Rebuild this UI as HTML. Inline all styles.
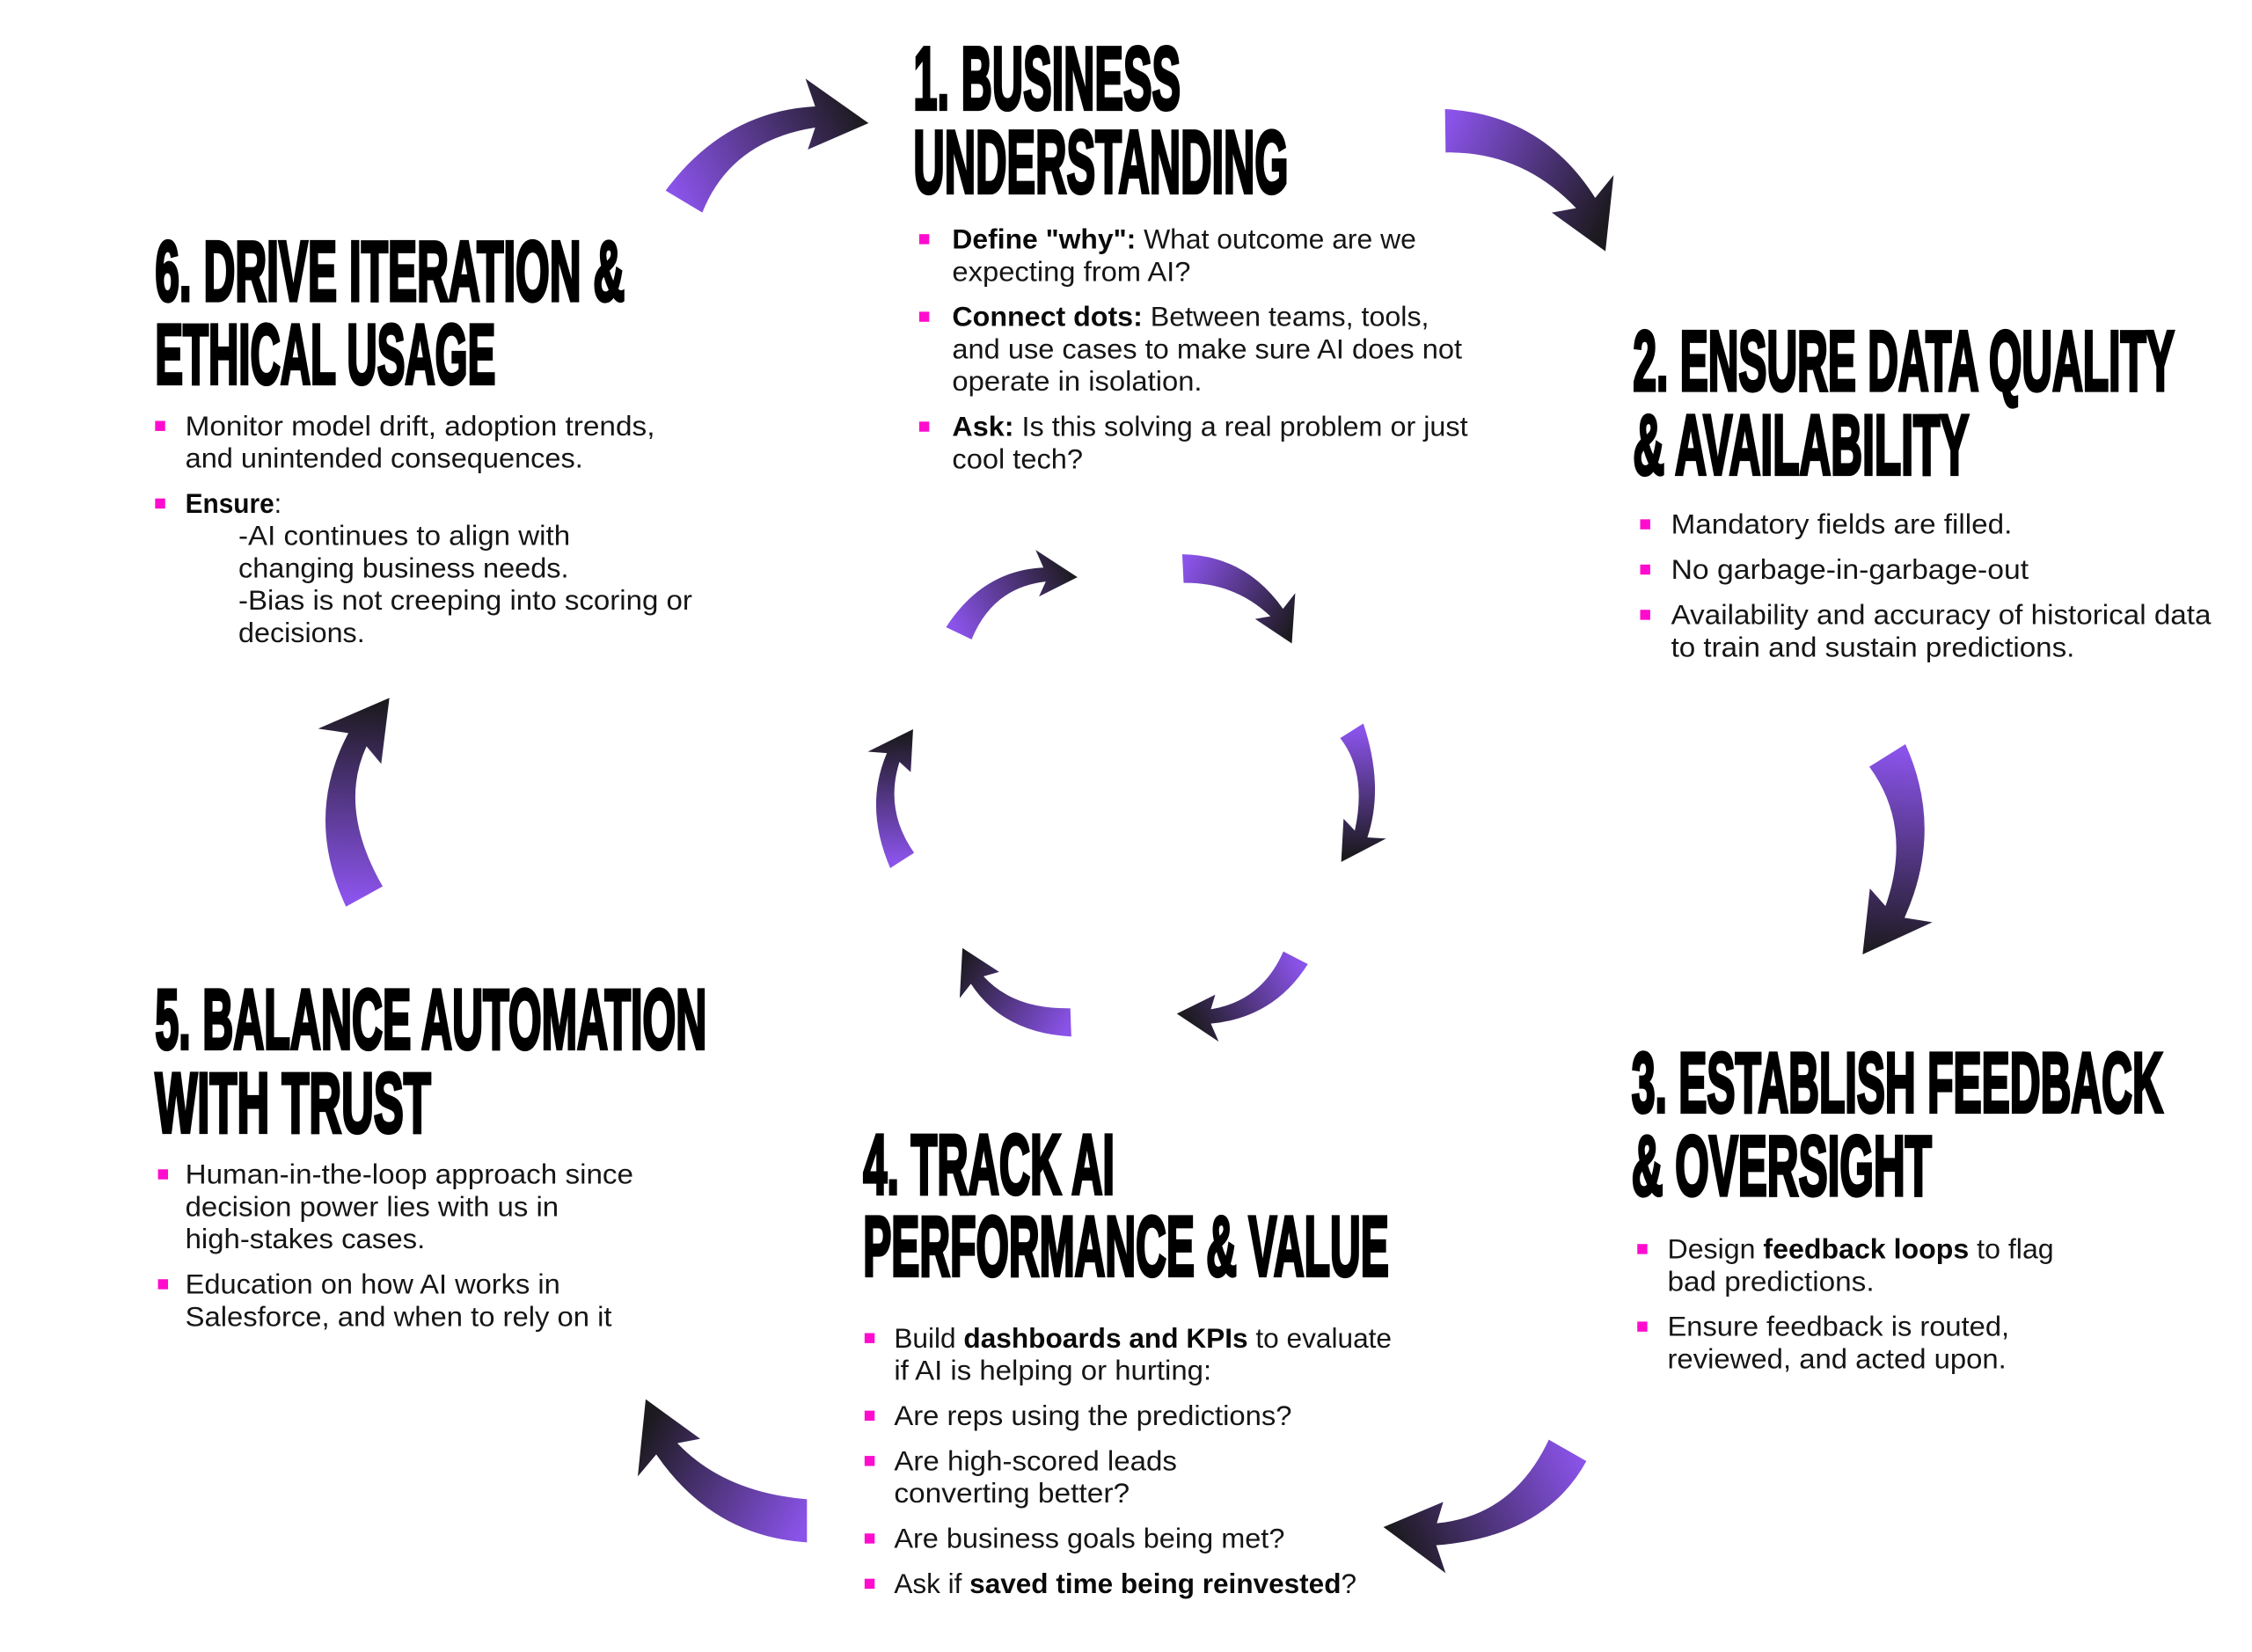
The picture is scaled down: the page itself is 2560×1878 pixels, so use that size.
<!DOCTYPE html>
<html>
<head>
<meta charset="utf-8">
<style>
html,body{margin:0;padding:0;background:#fff;}
svg{display:block;}
.t{font-family:"Liberation Sans",Arial,sans-serif;font-weight:700;font-size:59px;fill:#000;stroke:#000;stroke-width:2.6px;stroke-linejoin:miter;}
.t1{font-size:62px;}
.b{font-family:"Liberation Sans",Arial,sans-serif;font-size:19px;fill:#151515;}
.k{font-weight:700;fill:#0a0a0a;}
.sq{fill:#ff0ccf;}
</style>
</head>
<body>
<svg xmlns="http://www.w3.org/2000/svg" width="2560" height="1878" viewBox="0 0 2560 1878">
<defs>
  <linearGradient id="gA1" gradientUnits="userSpaceOnUse" x1="130" y1="510" x2="740" y2="200"><stop offset="0" stop-color="#8a53e9"/><stop offset="1" stop-color="#1c1a1f"/></linearGradient>
  <linearGradient id="gA2" gradientUnits="userSpaceOnUse" x1="68" y1="140" x2="630" y2="420"><stop offset="0" stop-color="#8a53e9"/><stop offset="1" stop-color="#1c1a1f"/></linearGradient>
  <linearGradient id="gA3" gradientUnits="userSpaceOnUse" x1="350" y1="100" x2="300" y2="790"><stop offset="0" stop-color="#8a53e9"/><stop offset="1" stop-color="#1c1a1f"/></linearGradient>
  <linearGradient id="gA4" gradientUnits="userSpaceOnUse" x1="720" y1="140" x2="100" y2="440"><stop offset="0" stop-color="#8a53e9"/><stop offset="1" stop-color="#1c1a1f"/></linearGradient>
  <linearGradient id="gA5" gradientUnits="userSpaceOnUse" x1="622" y1="480" x2="60" y2="180"><stop offset="0" stop-color="#8a53e9"/><stop offset="1" stop-color="#1c1a1f"/></linearGradient>
  <linearGradient id="gA6" gradientUnits="userSpaceOnUse" x1="430" y1="720" x2="470" y2="60"><stop offset="0" stop-color="#8a53e9"/><stop offset="1" stop-color="#1c1a1f"/></linearGradient>
  <linearGradient id="gI1" gradientUnits="userSpaceOnUse" x1="290" y1="310" x2="630" y2="140"><stop offset="0" stop-color="#8a53e9"/><stop offset="1" stop-color="#1c1a1f"/></linearGradient>
  <linearGradient id="gI2" gradientUnits="userSpaceOnUse" x1="948" y1="120" x2="1270" y2="300"><stop offset="0" stop-color="#8a53e9"/><stop offset="1" stop-color="#1c1a1f"/></linearGradient>
  <linearGradient id="gI3" gradientUnits="userSpaceOnUse" x1="1444" y1="597" x2="1450" y2="960"><stop offset="0" stop-color="#8a53e9"/><stop offset="1" stop-color="#1c1a1f"/></linearGradient>
  <linearGradient id="gI4" gradientUnits="userSpaceOnUse" x1="1280" y1="1265" x2="960" y2="1440"><stop offset="0" stop-color="#8a53e9"/><stop offset="1" stop-color="#1c1a1f"/></linearGradient>
  <linearGradient id="gI5" gradientUnits="userSpaceOnUse" x1="618" y1="1455" x2="300" y2="1260"><stop offset="0" stop-color="#8a53e9"/><stop offset="1" stop-color="#1c1a1f"/></linearGradient>
  <linearGradient id="gI6" gradientUnits="userSpaceOnUse" x1="123" y1="978" x2="120" y2="610"><stop offset="0" stop-color="#8a53e9"/><stop offset="1" stop-color="#1c1a1f"/></linearGradient>
</defs>
<rect x="0" y="0" width="2560" height="1878" fill="#ffffff"/>

<!-- Outer ring arrows -->
<g transform="translate(730,60) scale(0.33333)">
  <path fill="url(#gA1)" d="M80,470 Q280,200 590,183 L557,88 L772,240 L565,330 L590,255 Q302,300 205,545 Z"/>
</g>
<g transform="translate(1620,100) scale(0.33333)">
  <path fill="url(#gA2)" d="M68,72 Q400,90 580,375 L643,297 L615,557 L432,425 L515,410 Q330,215 70,220 Z"/>
</g>
<g transform="translate(2030,820) scale(0.33333)">
  <path fill="url(#gA3)" d="M408,78 Q540,370 405,670 L500,685 L262,795 L287,570 L340,630 Q435,360 285,155 Z"/>
</g>
<g transform="translate(1550,1600) scale(0.33333)">
  <path fill="url(#gA4)" d="M632,110 Q510,370 250,395 L272,322 L68,408 L280,565 L248,470 Q620,440 760,183 Z"/>
</g>
<g transform="translate(710,1570) scale(0.33333)">
  <path fill="url(#gA5)" d="M622,403 Q340,380 180,212 L258,197 L72,62 L45,325 L108,250 Q300,530 622,550 Z"/>
</g>
<g transform="translate(270,780) scale(0.33333)">
  <path fill="url(#gA6)" d="M370,752 Q226,444 378,160 L275,145 L518,40 L490,265 L440,205 Q342,416 495,683 Z"/>
</g>

<!-- Inner ring arrows -->
<g transform="translate(978,600) scale(0.38685)">
  <path fill="url(#gI1)" d="M252,292 Q360,125 538,117 L515,65 L638,145 L525,202 L545,158 Q390,175 327,328 Z"/>
  <path fill="url(#gI2)" d="M946,78 Q1130,80 1242,238 L1278,192 L1268,340 L1160,268 L1205,260 Q1100,160 950,162 Z"/>
  <path fill="url(#gI3)" d="M1478,575 Q1540,760 1490,910 L1545,913 L1413,982 L1420,855 L1453,890 Q1490,720 1410,618 Z"/>
  <path fill="url(#gI4)" d="M1315,1282 Q1215,1440 1030,1457 L1053,1510 L930,1428 L1043,1372 L1030,1415 Q1180,1390 1243,1245 Z"/>
  <path fill="url(#gI5)" d="M620,1495 Q420,1485 325,1340 L292,1382 L300,1235 L408,1305 L362,1318 Q450,1415 617,1412 Z"/>
  <path fill="url(#gI6)" d="M88,1000 Q10,820 78,662 L22,658 L155,592 L148,718 L115,688 Q70,830 158,955 Z"/>
</g>

<!-- Text layer in 1568x1150 units -->
<g transform="scale(1.63265,1.63304)">
  <!-- Titles -->
  <text class="t t1" x="636" y="76" textLength="186" lengthAdjust="spacingAndGlyphs">1. BUSINESS</text>
  <text class="t t1" x="636" y="134" textLength="261" lengthAdjust="spacingAndGlyphs">UNDERSTANDING</text>

  <text class="t" x="108" y="209" textLength="327" lengthAdjust="spacingAndGlyphs">6. DRIVE ITERATION &amp;</text>
  <text class="t" x="108" y="267" textLength="237" lengthAdjust="spacingAndGlyphs">ETHICAL USAGE</text>

  <text class="t" x="1137" y="271.5" textLength="377" lengthAdjust="spacingAndGlyphs">2. ENSURE DATA QUALITY</text>
  <text class="t" x="1137" y="330" textLength="234" lengthAdjust="spacingAndGlyphs">&amp; AVAILABILITY</text>

  <text class="t" x="1136" y="774" textLength="370" lengthAdjust="spacingAndGlyphs">3. ESTABLISH FEEDBACK</text>
  <text class="t" x="1136" y="832" textLength="209" lengthAdjust="spacingAndGlyphs">&amp; OVERSIGHT</text>

  <text class="t" x="601" y="831" textLength="175" lengthAdjust="spacingAndGlyphs">4. TRACK AI</text>
  <text class="t" x="601" y="888" textLength="366" lengthAdjust="spacingAndGlyphs">PERFORMANCE &amp; VALUE</text>

  <text class="t" x="108" y="730" textLength="384" lengthAdjust="spacingAndGlyphs">5. BALANCE AUTOMATION</text>
  <text class="t" x="108" y="788" textLength="192" lengthAdjust="spacingAndGlyphs">WITH TRUST</text>

  <!-- Block 1 -->
  <rect class="sq" x="640" y="163" width="7" height="7"/>
  <text class="b" x="663" y="173" textLength="323" lengthAdjust="spacingAndGlyphs"><tspan class="k">Define "why":</tspan> What outcome are we</text>
  <text class="b" x="663" y="195.5" textLength="166" lengthAdjust="spacingAndGlyphs">expecting from AI?</text>
  <rect class="sq" x="640" y="217" width="7" height="7"/>
  <text class="b" x="663" y="227" textLength="332" lengthAdjust="spacingAndGlyphs"><tspan class="k">Connect dots:</tspan> Between teams, tools,</text>
  <text class="b" x="663" y="249.5" textLength="355" lengthAdjust="spacingAndGlyphs">and use cases to make sure AI does not</text>
  <text class="b" x="663" y="272" textLength="174" lengthAdjust="spacingAndGlyphs">operate in isolation.</text>
  <rect class="sq" x="640" y="293.5" width="7" height="7"/>
  <text class="b" x="663" y="303.5" textLength="359" lengthAdjust="spacingAndGlyphs"><tspan class="k">Ask:</tspan> Is this solving a real problem or just</text>
  <text class="b" x="663" y="326" textLength="91" lengthAdjust="spacingAndGlyphs">cool tech?</text>

  <!-- Block 6 -->
  <rect class="sq" x="108" y="293" width="7" height="7"/>
  <text class="b" x="129" y="303" textLength="327" lengthAdjust="spacingAndGlyphs">Monitor model drift, adoption trends,</text>
  <text class="b" x="129" y="325.5" textLength="277" lengthAdjust="spacingAndGlyphs">and unintended consequences.</text>
  <rect class="sq" x="108" y="347" width="7" height="7"/>
  <text class="b" x="129" y="357" textLength="67" lengthAdjust="spacingAndGlyphs"><tspan class="k">Ensure</tspan>:</text>
  <text class="b" x="166" y="379.5" textLength="231" lengthAdjust="spacingAndGlyphs">-AI continues to align with</text>
  <text class="b" x="166" y="402" textLength="230" lengthAdjust="spacingAndGlyphs">changing business needs.</text>
  <text class="b" x="166" y="424.5" textLength="316" lengthAdjust="spacingAndGlyphs">-Bias is not creeping into scoring or</text>
  <text class="b" x="166" y="447" textLength="88" lengthAdjust="spacingAndGlyphs">decisions.</text>

  <!-- Block 2 -->
  <rect class="sq" x="1142" y="361.5" width="7" height="7"/>
  <text class="b" x="1163.5" y="371.5" textLength="237.5" lengthAdjust="spacingAndGlyphs">Mandatory fields are filled.</text>
  <rect class="sq" x="1142" y="393" width="7" height="7"/>
  <text class="b" x="1163.5" y="403" textLength="249" lengthAdjust="spacingAndGlyphs">No garbage-in-garbage-out</text>
  <rect class="sq" x="1142" y="424.5" width="7" height="7"/>
  <text class="b" x="1163.5" y="434.5" textLength="376" lengthAdjust="spacingAndGlyphs">Availability and accuracy of historical data</text>
  <text class="b" x="1163.5" y="457" textLength="281" lengthAdjust="spacingAndGlyphs">to train and sustain predictions.</text>

  <!-- Block 3 -->
  <rect class="sq" x="1140" y="866" width="7" height="7"/>
  <text class="b" x="1161" y="876" textLength="269" lengthAdjust="spacingAndGlyphs">Design <tspan class="k">feedback loops</tspan> to flag</text>
  <text class="b" x="1161" y="898.5" textLength="144" lengthAdjust="spacingAndGlyphs">bad predictions.</text>
  <rect class="sq" x="1140" y="920" width="7" height="7"/>
  <text class="b" x="1161" y="930" textLength="238" lengthAdjust="spacingAndGlyphs">Ensure feedback is routed,</text>
  <text class="b" x="1161" y="952.5" textLength="236" lengthAdjust="spacingAndGlyphs">reviewed, and acted upon.</text>

  <!-- Block 4 -->
  <rect class="sq" x="602" y="928" width="7" height="7"/>
  <text class="b" x="622.5" y="938" textLength="346.5" lengthAdjust="spacingAndGlyphs">Build <tspan class="k">dashboards and KPIs</tspan> to evaluate</text>
  <text class="b" x="622.5" y="960.5" textLength="221" lengthAdjust="spacingAndGlyphs">if AI is helping or hurting:</text>
  <rect class="sq" x="602" y="982" width="7" height="7"/>
  <text class="b" x="622.5" y="992" textLength="277" lengthAdjust="spacingAndGlyphs">Are reps using the predictions?</text>
  <rect class="sq" x="602" y="1013.5" width="7" height="7"/>
  <text class="b" x="622.5" y="1023.5" textLength="197" lengthAdjust="spacingAndGlyphs">Are high-scored leads</text>
  <text class="b" x="622.5" y="1046" textLength="164" lengthAdjust="spacingAndGlyphs">converting better?</text>
  <rect class="sq" x="602" y="1067.5" width="7" height="7"/>
  <text class="b" x="622.5" y="1077.5" textLength="272" lengthAdjust="spacingAndGlyphs">Are business goals being met?</text>
  <rect class="sq" x="602" y="1099" width="7" height="7"/>
  <text class="b" x="622.5" y="1109" textLength="322" lengthAdjust="spacingAndGlyphs">Ask if <tspan class="k">saved time being reinvested</tspan>?</text>

  <!-- Block 5 -->
  <rect class="sq" x="110" y="814" width="7" height="7"/>
  <text class="b" x="129" y="824" textLength="312" lengthAdjust="spacingAndGlyphs">Human-in-the-loop approach since</text>
  <text class="b" x="129" y="846.5" textLength="260" lengthAdjust="spacingAndGlyphs">decision power lies with us in</text>
  <text class="b" x="129" y="869" textLength="167" lengthAdjust="spacingAndGlyphs">high-stakes cases.</text>
  <rect class="sq" x="110" y="890.5" width="7" height="7"/>
  <text class="b" x="129" y="900.5" textLength="261" lengthAdjust="spacingAndGlyphs">Education on how AI works in</text>
  <text class="b" x="129" y="923" textLength="297" lengthAdjust="spacingAndGlyphs">Salesforce, and when to rely on it</text>
</g>
</svg>
</body>
</html>
